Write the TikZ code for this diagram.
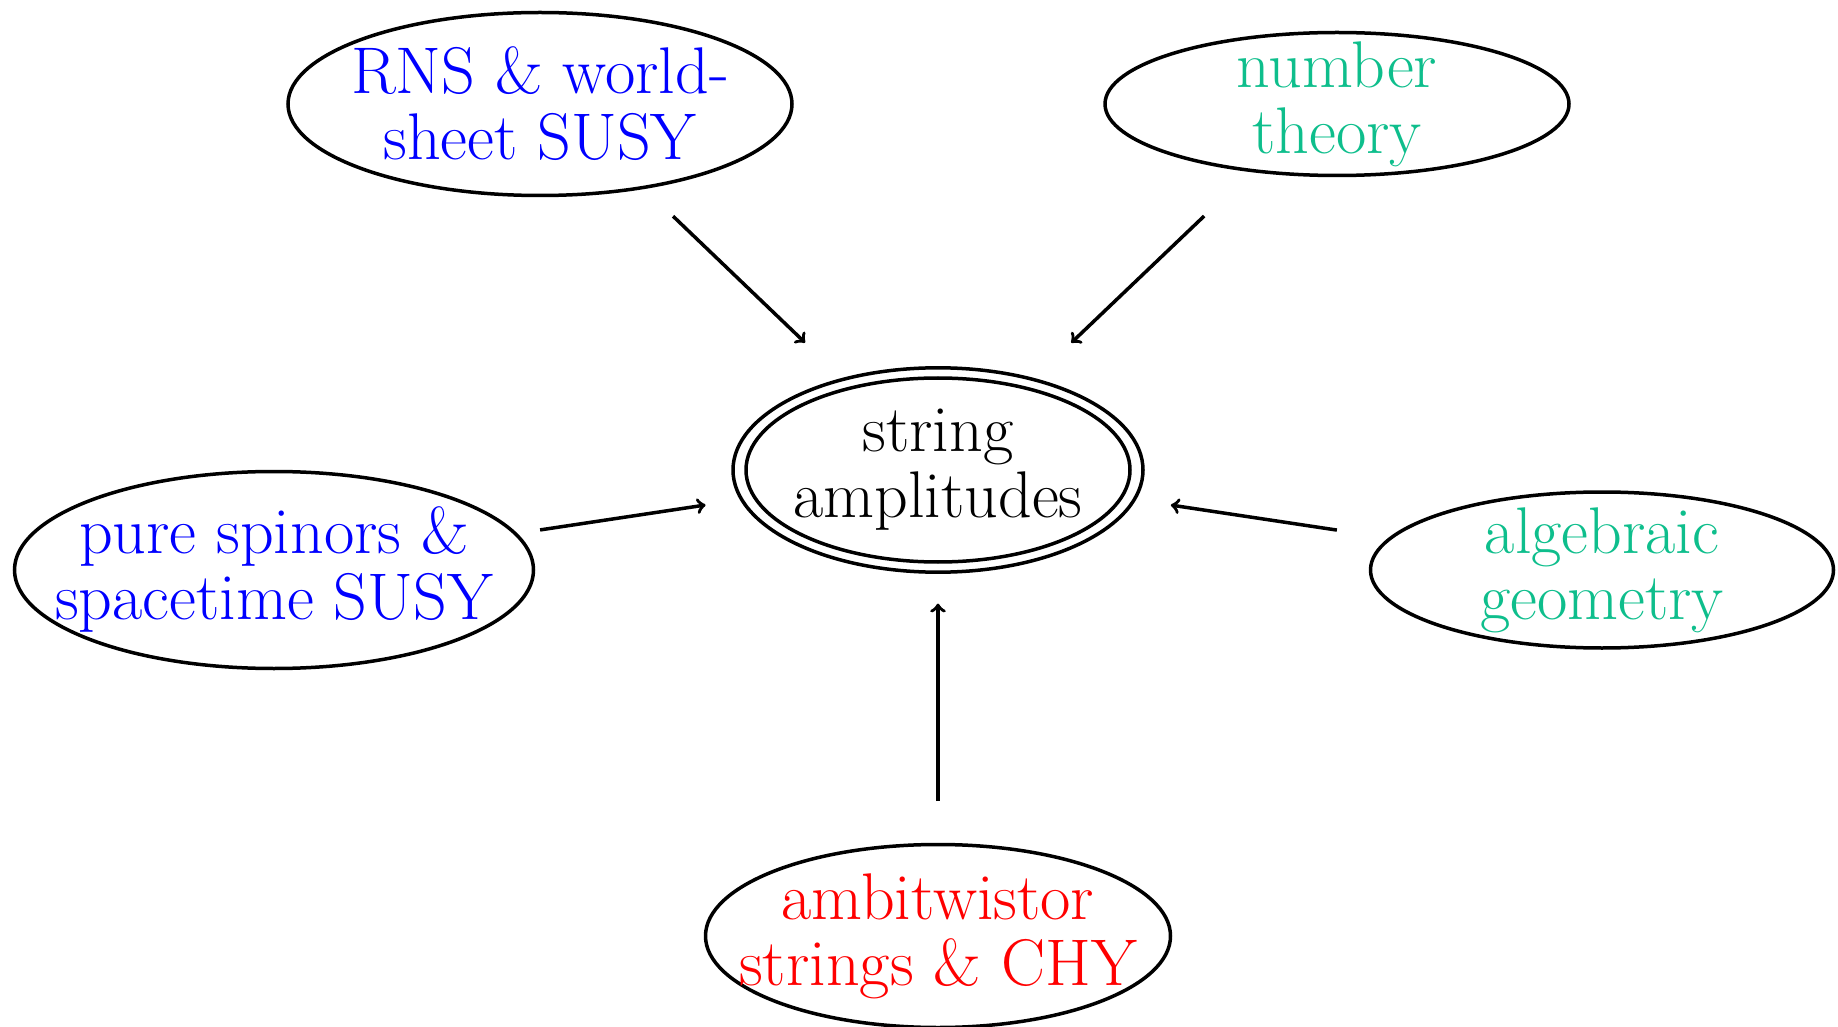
\documentclass[tikz,border=0pt]{standalone}
\usetikzlibrary{shapes.geometric}
\definecolor{mygreen}{RGB}{14,190,140}
\begin{document}
\begin{tikzpicture}[x=0.5pt,y=-0.5pt,
  oval/.style={draw=black, ellipse, line width=1.75pt, inner sep=0pt, outer sep=0pt},
  lbl/.style={align=center, inner sep=0pt, font=\fontsize{33}{33}\selectfont},
  arr/.style={->, line width=1.75pt}]
\path[use as bounding box] (0,0) rectangle (1838,1027);
% ellipses
\node[oval, minimum width=205pt, minimum height=102.2pt] (amp) at (938,470) {};
\node[oval, minimum width=192pt, minimum height=92pt] (ampin) at (amp) {};
\node[oval, minimum width=252pt, minimum height=91.5pt] (rns) at (540,104) {};
\node[oval, minimum width=232pt, minimum height=71.5pt] (nt) at (1337,104) {};
\node[oval, minimum width=259.5pt, minimum height=98.5pt] (ps) at (274,570) {};
\node[oval, minimum width=231.5pt, minimum height=78pt] (ag) at (1602,570) {};
\node[oval, minimum width=232.5pt, minimum height=91.5pt] (ambi) at (938,936) {};
% texts
\node[lbl] (ampT) at (amp) {string\\amplitudes};
\node[lbl, text=blue] (rnsT) at (rns) {RNS \& world-\\sheet SUSY};
\node[lbl, text=mygreen] (ntT) at (nt) {number\\theory};
\node[lbl, text=blue] (psT) at (ps) {pure spinors \&\\spacetime SUSY};
\node[lbl, text=mygreen] (agT) at (ag) {algebraic\\geometry};
\node[lbl, text=red] (ambiT) at (ambi) {ambitwistor\\strings \& CHY};
% arrows
\draw[arr, shorten <=20.75pt, shorten >=26.5pt] (rns.-39.06) -- (amp);
\draw[arr, shorten <=33pt, shorten >=26.5pt] (nt.-142) -- (amp);
\draw[arr, shorten <=12.6pt, shorten >=18.3pt] (ps) -- (amp);
\draw[arr, shorten <=27.2pt, shorten >=18.5pt] (ag) -- (amp);
\draw[arr, shorten <=21.7pt, shorten >=15.7pt] (ambi) -- (amp);
\end{tikzpicture}
\end{document}
